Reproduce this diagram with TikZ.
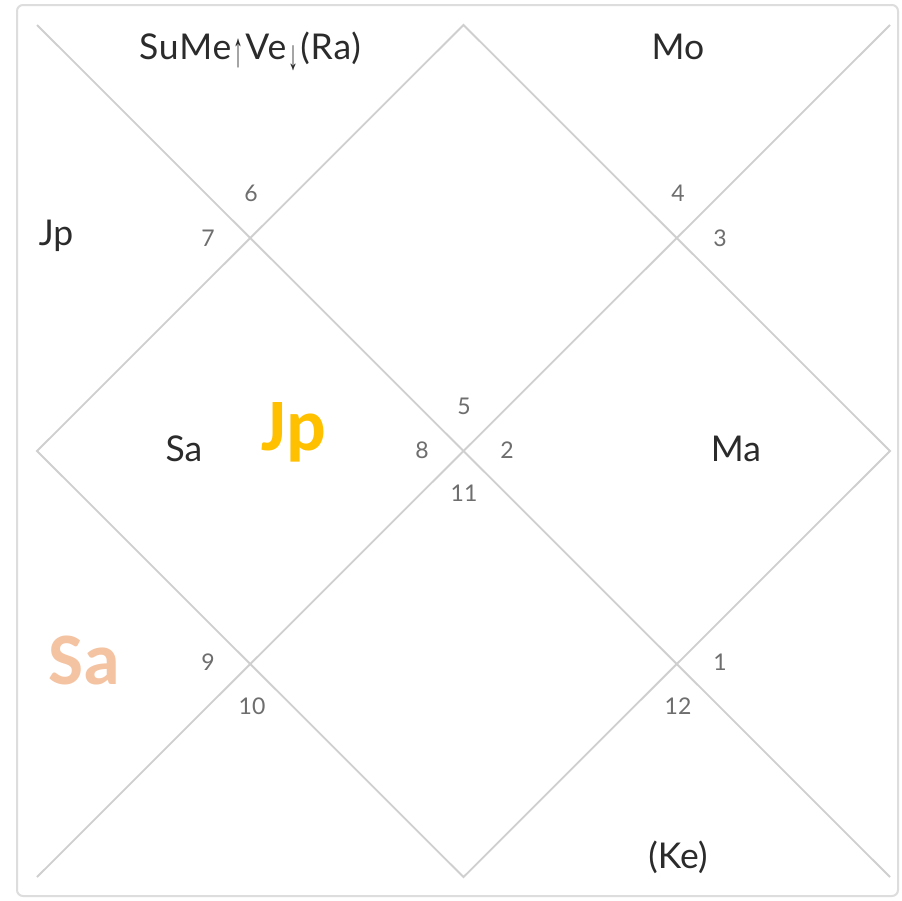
\documentclass[tikz,border=0pt]{standalone}
\usepackage{fontspec}
\usepackage{graphicx}
\setmainfont{Lato}
\newfontfamily\boldcal{Carlito}
\newfontfamily\arrowfont{Liberation Sans}
\definecolor{gridline}{HTML}{CFCFCF}
\definecolor{framecol}{HTML}{DDDDDD}
\definecolor{planet}{HTML}{2B2B2B}
\definecolor{numcol}{HTML}{6E6E6E}
\definecolor{jpgold}{HTML}{FFC000}
\definecolor{sapeach}{HTML}{F4C3A2}
\newcommand{\tallarrow}[3]{\hspace{2pt}\raisebox{\dimexpr\depth-#3\relax}{\resizebox*{10pt}{#2}{\arrowfont #1}}\hspace{2pt}}
\begin{document}
\begin{tikzpicture}[x=1pt,y=-1pt,
  planetlbl/.style={text=planet,font=\fontsize{35.5}{38}\selectfont,inner sep=0pt},
  numlbl/.style={text=numcol,font=\fontsize{23}{26}\selectfont,inner sep=0pt},
  biglbl/.style={font=\boldcal\bfseries\fontsize{74}{80}\selectfont,inner sep=0pt},
  grid/.style={draw=gridline,line width=1.8pt}]
\useasboundingbox (0,0) rectangle (902,900);
\fill[white] (0,0) rectangle (902,900);
\draw[framecol,line width=2pt,rounded corners=6pt] (17,5) rectangle (898,896);
% chart corners
\coordinate (tl) at (37,25);
\coordinate (tr) at (890,25);
\coordinate (br) at (890,877);
\coordinate (bl) at (37,877);
\coordinate (tm) at (463.5,25);
\coordinate (rm) at (890,451);
\coordinate (bm) at (463.5,877);
\coordinate (lm) at (37,451);
\draw[grid] (tl) -- (br);
\draw[grid] (tr) -- (bl);
\draw[grid] (tm) -- (rm) -- (bm) -- (lm) -- cycle;
% planets
\node[planetlbl,anchor=base] (h6p) at (250,59) {\addfontfeatures{LetterSpace=2.5}SuMe\tallarrow{↑}{29pt}{9pt}Ve\tallarrow{↓}{25pt}{12pt}(Ra)};
\node[planetlbl] (h4p) at (678,47) {Mo};
\node[planetlbl] (h7p) at (56,236) {Jp};
\node[planetlbl] (h8p) at (184,449) {Sa};
\node[planetlbl] (h2p) at (736,449) {Ma};
\node[planetlbl] (h12p) at (678,857) {(Ke)};
\node[biglbl,text=jpgold] (bigjp) at (294,432) {Jp};
\node[biglbl,text=sapeach] (bigsa) at (84,660) {Sa};
% house numbers
\node[numlbl] (n6) at (251,193) {6};
\node[numlbl] (n7) at (208,238) {7};
\node[numlbl] (n4) at (678,193) {4};
\node[numlbl] (n3) at (720,238) {3};
\node[numlbl] (n5) at (464,406) {5};
\node[numlbl] (n8) at (422,450) {8};
\node[numlbl] (n2) at (507,450) {2};
\node[numlbl] (n11) at (464,493) {11};
\node[numlbl] (n9) at (208,662) {9};
\node[numlbl] (n10) at (252,706) {10};
\node[numlbl] (n1) at (720,662) {1};
\node[numlbl] (n12) at (678,706) {12};
\end{tikzpicture}
\end{document}
